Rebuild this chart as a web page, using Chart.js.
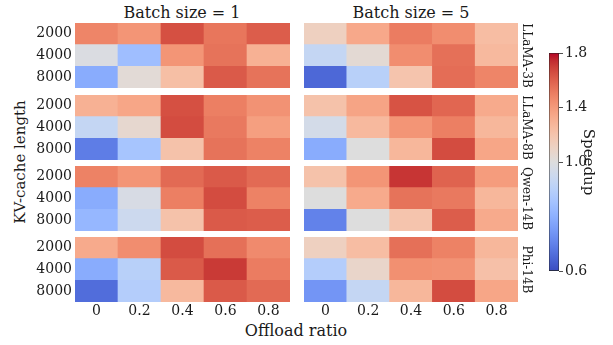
<!DOCTYPE html>
<html>
<head>
<meta charset="utf-8">
<script src="https://cdn.jsdelivr.net/npm/chart.js@4"></script>
<style>
  html, body { margin: 0; padding: 0; background: #fff; }
  #fig { position: relative; width: 613px; height: 345px; overflow: hidden; font-family: 'DejaVu Serif', serif; color: #1a1a1a; }
  #fig canvas { position: absolute; }
  .lbl { position: absolute; white-space: nowrap; transform: translate(-50%, -50%); font-size: 16px; }
</style>
</head>
<body>
<div id="fig">
  <div class="lbl" style="left:182px; top:12px;">Batch size = 1</div>
  <div class="lbl" style="left:411px; top:12px;">Batch size = 5</div>
  <div class="lbl" style="left:20px; top:162px; font-size:15px; transform: translate(-50%, -50%) rotate(-90deg);">KV-cache length</div>
  <div class="lbl" style="left:296px; top:330px;">Offload ratio</div>
</div>
<script>
const offloadRatios = ['0', '0.2', '0.4', '0.6', '0.8'];
const kvLengths = ['2000', '4000', '8000'];
const models = ['LLaMA-3B', 'LLaMA-8B', 'Qwen-14B', 'Phi-14B'];
const colorbarTicks = [0.6, 1.0, 1.4, 1.8];

// speedup per panel, rows = KV length, cols = offload ratio
const llama3bBs1 = [[1.48, 1.42, 1.65, 1.53, 1.61], [0.99, 0.84, 1.42, 1.54, 1.30], [0.79, 1.03, 1.23, 1.62, 1.54]];
const llama3bBs5 = [[1.12, 1.34, 1.51, 1.45, 1.24], [0.93, 1.04, 1.45, 1.55, 1.26], [0.65, 0.90, 1.20, 1.56, 1.48]];
const llama8bBs1 = [[1.30, 1.35, 1.65, 1.50, 1.43], [0.93, 1.06, 1.66, 1.52, 1.38], [0.69, 0.86, 1.21, 1.54, 1.49]];
const llama8bBs5 = [[1.21, 1.36, 1.64, 1.58, 1.33], [0.97, 1.26, 1.42, 1.50, 1.27], [0.79, 1.00, 1.27, 1.66, 1.35]];
const qwen14bBs1 = [[1.49, 1.42, 1.57, 1.62, 1.57], [0.79, 0.98, 1.50, 1.66, 1.49], [0.82, 0.95, 1.21, 1.62, 1.61]];
const qwen14bBs5 = [[1.21, 1.42, 1.72, 1.59, 1.39], [1.00, 1.33, 1.54, 1.52, 1.27], [0.70, 1.00, 1.20, 1.61, 1.33]];
const phi14bBs1 = [[1.33, 1.45, 1.66, 1.55, 1.46], [0.79, 0.90, 1.62, 1.71, 1.51], [0.66, 0.89, 1.26, 1.62, 1.57]];
const phi14bBs5 = [[1.12, 1.24, 1.55, 1.49, 1.27], [0.89, 1.08, 1.44, 1.43, 1.22], [0.74, 0.93, 1.27, 1.66, 1.35]];

const panelData = [
    [llama3bBs1, llama3bBs5],
    [llama8bBs1, llama8bBs5],
    [qwen14bBs1, qwen14bBs5],
    [phi14bBs1, phi14bBs5]
];

// matplotlib coolwarm, 33 samples
const coolwarm = [
    [59,76,192],[68,90,204],[77,104,215],[87,117,225],[98,130,234],[108,142,241],[119,154,247],[130,165,251],
    [141,176,254],[152,185,255],[163,194,255],[174,201,253],[184,208,249],[194,213,244],[204,217,238],[213,219,230],
    [221,221,221],[229,216,209],[236,211,197],[241,204,185],[245,196,173],[247,187,160],[247,177,148],[247,166,135],
    [244,154,123],[241,141,111],[236,127,99],[229,112,88],[222,96,77],[213,80,66],[203,62,56],[192,40,47],[180,4,38]
];

// two-slope norm: 0.6 .. 1.0 .. 1.8
function norm(v) {
    if (v < 1) return Math.max(0, 0.5 * (v - 0.6) / 0.4);
    return Math.min(1, 0.5 + 0.5 * (v - 1) / 0.8);
}

function cmap(t) {
    const p = t * (coolwarm.length - 1);
    const i = Math.min(Math.floor(p), coolwarm.length - 2);
    const f = p - i;
    const a = coolwarm[i], b = coolwarm[i + 1];
    const c = a.map((x, k) => Math.round(x + (b[k] - x) * f));
    return `rgb(${c[0]},${c[1]},${c[2]})`;
}

Chart.defaults.font.family = "'DejaVu Serif', serif";
Chart.defaults.color = '#1a1a1a';

const fig = document.getElementById('fig');
const panelLeft = [75, 304];
const panelWidth = [215, 214];
const panelTop = [23, 95, 166, 237];
const panelHeight = 65;
const yAxisW = 75, rightAxisW = 15, xAxisH = 22;

function makeCanvas(left, top, w, h) {
    const c = document.createElement('canvas');
    c.width = w; c.height = h;
    c.style.left = left + 'px'; c.style.top = top + 'px';
    c.style.width = w + 'px'; c.style.height = h + 'px';
    fig.appendChild(c);
    return c;
}

models.forEach((model, r) => {
    [0, 1].forEach(col => {
        const values = panelData[r][col];
        const isLeft = col === 0;
        const isBottom = r === models.length - 1;
        const w = panelWidth[col] + (isLeft ? yAxisW : rightAxisW);
        const h = panelHeight + (isBottom ? xAxisH : 0);
        const left = isLeft ? 0 : panelLeft[col];
        const canvas = makeCanvas(left, panelTop[r], w, h);

        // first dataset sits at the bottom of the stack
        const datasets = kvLengths.slice().reverse().map(kv => {
            const row = kvLengths.indexOf(kv);
            return {
                label: kv,
                data: offloadRatios.map(() => 1),
                backgroundColor: values[row].map(v => cmap(norm(v))),
                borderWidth: 0,
                barPercentage: 1,
                categoryPercentage: 1
            };
        });

        new Chart(canvas.getContext('2d'), {
            type: 'bar',
            data: { labels: offloadRatios, datasets },
            options: {
                responsive: false,
                animation: false,
                devicePixelRatio: 1,
                layout: { padding: 0 },
                plugins: { legend: { display: false }, tooltip: { enabled: false } },
                scales: {
                    x: {
                        display: isBottom,
                        stacked: true,
                        grid: { display: false, drawTicks: false },
                        border: { display: false },
                        ticks: { font: { size: 14 }, maxRotation: 0, padding: 1 },
                        afterFit: s => {
                            if (isBottom) s.height = xAxisH;
                            s.paddingLeft = 0; s.paddingRight = 0;
                        }
                    },
                    y: {
                        stacked: true,
                        min: 0,
                        max: kvLengths.length,
                        position: isLeft ? 'left' : 'right',
                        grid: { display: false, drawTicks: false },
                        border: { display: false },
                        title: { display: !isLeft, text: model, font: { size: 12 }, padding: 0 },
                        ticks: {
                            display: isLeft,
                            font: { size: 14 },
                            padding: 3,
                            callback: v => kvLengths[Math.floor(kvLengths.length - v)]
                        },
                        afterBuildTicks: s => {
                            s.ticks = kvLengths.map((k, i) => ({ value: kvLengths.length - 0.5 - i }));
                        },
                        afterFit: s => {
                            s.width = isLeft ? yAxisW : rightAxisW;
                            s.paddingTop = 0; s.paddingBottom = 0;
                        }
                    }
                }
            }
        });
    });
});

// colorbar
const cbCanvas = makeCanvas(549, 43, 64, 238);
new Chart(cbCanvas.getContext('2d'), {
    type: 'bar',
    data: {
        labels: [''],
        datasets: [{
            data: [[0, 1]],
            backgroundColor: ctx => {
                const area = ctx.chart.chartArea;
                if (!area) return '#ddd';
                const g = ctx.chart.ctx.createLinearGradient(0, area.bottom, 0, area.top);
                coolwarm.forEach((c, i) => g.addColorStop(i / (coolwarm.length - 1), `rgb(${c[0]},${c[1]},${c[2]})`));
                return g;
            },
            borderColor: '#222',
            borderWidth: 0.8,
            borderSkipped: false,
            barPercentage: 1,
            categoryPercentage: 1
        }]
    },
    options: {
        responsive: false,
        animation: false,
        devicePixelRatio: 1,
        layout: { padding: { top: 10, bottom: 10 } },
        plugins: { legend: { display: false }, tooltip: { enabled: false } },
        scales: {
            x: { display: false },
            y: {
                position: 'right',
                min: 0,
                max: 1,
                grid: { display: true, drawOnChartArea: false, drawTicks: true, tickLength: 4, color: '#222', lineWidth: 0.8 },
                border: { display: false },
                title: { display: true, text: 'Speedup', font: { size: 15 }, padding: { top: 16, bottom: 0 } },
                ticks: {
                    font: { size: 14 },
                    padding: 2,
                    callback: (v, i) => colorbarTicks[i].toFixed(1)
                },
                afterBuildTicks: s => {
                    s.ticks = colorbarTicks.map(v => ({ value: norm(v) }));
                },
                afterFit: s => { s.width = 54; s.paddingTop = 0; s.paddingBottom = 0; }
            }
        }
    }
});
</script>
</body>
</html>
